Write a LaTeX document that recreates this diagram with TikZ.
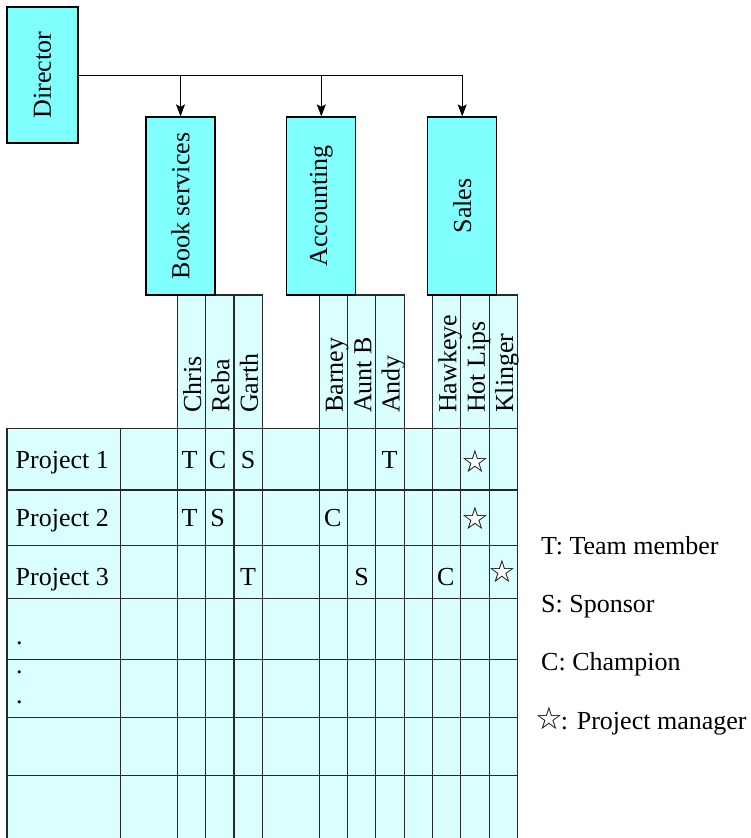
\documentclass[tikz,border=0pt]{standalone}
\usepackage{fontspec}
\setmainfont{Liberation Serif}
\newfontfamily\starfont{DejaVu Sans}
\usetikzlibrary{arrows.meta}

\definecolor{deptcyan}{RGB}{128,255,255}
\definecolor{gridcyan}{RGB}{217,255,255}
\definecolor{gridline}{RGB}{40,40,40}

% project-manager mark: white-filled outline star
\newcommand\pmstar{{\starfont\fontsize{31}{29}\selectfont\rlap{\textcolor{white}{★}}☆}}

\begin{document}
\begin{tikzpicture}[x=1pt,y=-1pt,
  every node/.style={font=\fontsize{26}{29}\selectfont, inner sep=0pt},
  dept/.style={draw=black, line width=1.3pt, fill=deptcyan},
  gridrule/.style={draw=gridline, line width=1.1pt},
  wire/.style={draw=black, line width=1pt},
  feed/.style={wire, -{Stealth[length=12pt,width=9pt,inset=2.5pt]}},
  entry/.style={anchor=base},
  starcell/.style={anchor=center},
  person/.style={rotate=90, anchor=base west}]

\useasboundingbox (0,0) rectangle (750,838);

% ---- matrix body ----
\def\cw{28.37}
\fill[gridcyan] (7,428.3) rectangle (517.7,850);
\foreach \y in {428.3,490,545.7,598.3,659.3,717.7,775.7}
  \draw[gridrule] (7,\y) -- (517.7,\y);
\foreach \k in {0,4,6,7,8,9,11,12,13,14,15,16,17,18}
  \draw[gridrule] ({7+\k*\cw},428.3) -- ({7+\k*\cw},850);

% ---- people columns ----
\foreach \k in {6,7,8,11,12,13,15,16,17}
  \draw[gridrule, fill=gridcyan] ({7+\k*\cw},295) rectangle ({7+(\k+1)*\cw},428.3);
\foreach \k/\who in {6/Chris,7/Reba,8/Garth,11/Barney,12/Aunt B,13/Andy,15/Hawkeye,16/Hot Lips,17/Klinger}
  \node[person] (who\k) at ({7+(\k+1)*\cw-4.5},413) {\who};

% ---- organisation boxes ----
\node[dept, minimum width=71pt, minimum height=136pt] (dir) at (42.5,75) {\rotatebox{90}{Director}};
\node[dept, minimum width=69pt, minimum height=178pt] (book) at (180.5,206) {\rotatebox{90}{Book services}};
\node[dept, minimum width=69pt, minimum height=178pt] (acct) at (321.3,206) {\rotatebox{90}{Accounting}};
\node[dept, minimum width=69pt, minimum height=178pt] (sales) at (462.2,206) {\rotatebox{90}{Sales}};

\coordinate (busend) at (dir.east -| sales.north);
\draw[wire] (dir.east) -- (busend);
\draw[feed] (dir.east -| book.north) -- (book.north);
\draw[feed] (dir.east -| acct.north) -- (acct.north);
\draw[feed] (busend) -- (sales.north);

% ---- row labels ----
\node[anchor=base west] (p1) at (15.5,468.5) {Project 1};
\node[anchor=base west] (p2) at (15.5,526.8) {Project 2};
\node[anchor=base west] (p3) at (15.5,585.7) {Project 3};
\node[anchor=base west] (dot1) at (16,644.6) {.};
\node[anchor=base west] (dot2) at (16,673.9) {.};
\node[anchor=base west] (dot3) at (16,703) {.};

% ---- roles ----
\node[entry] (r1a) at (189.5,468.5) {T};
\node[entry] (r1b) at (217.5,468.5) {C};
\node[entry] (r1c) at (248,468.5) {S};
\node[entry] (r1d) at (389.5,468.5) {T};
\node[starcell] (r1e) at (475.8,461.7) {\pmstar};

\node[entry] (r2a) at (189.5,526.8) {T};
\node[entry] (r2b) at (217.5,526.8) {S};
\node[entry] (r2c) at (332.8,526.8) {C};
\node[starcell] (r2d) at (475.8,518.3) {\pmstar};

\node[entry] (r3a) at (248,585.7) {T};
\node[entry] (r3b) at (361.7,585.7) {S};
\node[entry] (r3c) at (445.8,585.7) {C};
\node[starcell] (r3d) at (502.5,571.7) {\pmstar};

% ---- legend ----
\node[anchor=base west] (keyT) at (541,554) {T: Team member};
\node[anchor=base west] (keyS) at (541,612.3) {S: Sponsor};
\node[anchor=base west] (keyC) at (541,670) {C: Champion};
\node[anchor=base west] (keyPM) at (535,729.3) {\pmstar\kern-2pt: Project manager};

\end{tikzpicture}
\end{document}
